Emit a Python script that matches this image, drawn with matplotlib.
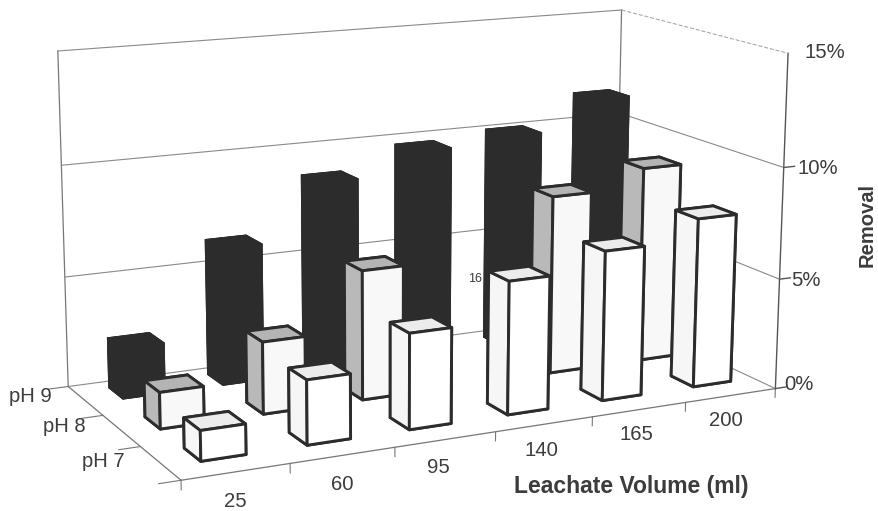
#!/usr/bin/env python3
"""3-D column chart: removal against leachate volume, one row of columns per pH."""
import matplotlib
matplotlib.use("Agg")
import matplotlib.pyplot as plt
import numpy as np

plt.rcParams["font.family"] = ["Liberation Sans", "DejaVu Sans"]

W_PX, H_PX = 879, 511
INK, LINE, DARK = "#3c3c3c", "#777777", "#2c2c2c"

volumes = ["25", "60", "95", "140", "165", "200"]
ph_rows = ["pH 7", "pH 8", "pH 9"]
ph7 = [1.3, 2.8, 4.2, 5.9, 6.7, 7.65]
ph8 = [1.6, 3.2, 5.8, np.nan, 8.15, 9.0]
ph9 = [2.3, 6.25, 8.75, 9.75, 10.05, 11.4]
removal_ticks = ["0%", "5%", "10%", "15%"]

# faces in bar3d order: bottom, top, front, back, left, right
face_colors = [
    ["#ffffff", "#ececec", "#ffffff", "#ffffff", "#f6f6f6", "#ffffff"],
    ["#ffffff", "#b4b4b4", "#f8f8f8", "#f8f8f8", "#b9b9b9", "#f8f8f8"],
    [DARK] * 6,
]
BAR_X, BAR_Y = 0.42, 0.40
PAD_X, PAD_Y = 0.33, 0.39

fig = plt.figure(figsize=(W_PX / 100, H_PX / 100), dpi=100)
# camera fitted to the box corners of the original
left, top, side = 25.2, -153.8, 773.6
ax = fig.add_axes([left / W_PX, 1 - (top + side) / H_PX, side / W_PX, side / H_PX],
                  projection="3d", computed_zorder=False)
ax.set_xlim(0, 6, view_margin=0)
ax.set_ylim(0, 3, view_margin=0)
ax.set_zlim(0, 15, view_margin=0)
ax.view_init(elev=13.3567, azim=-116.4292, roll=-0.1985)
ax.set_proj_type("persp", focal_length=0.5935)
ax.set_box_aspect((1, 0.4948, 0.5351))
ax.set_axis_off()
ax.patch.set_alpha(0)


def seg(x, y, z, color=LINE, lw=0.8, **kw):
    ax.plot(x, y, z, color=color, lw=lw, zorder=0, **kw)


# floor and walls
seg([0, 6], [0, 0], [0, 0], lw=0.9)
seg([0, 0], [0, 3], [0, 0], lw=0.9)
seg([6, 6], [0, 0], [0, 15], color="#555555", lw=1.0)
seg([0, 0], [3, 3], [0, 15], lw=0.9)
seg([6, 6], [3, 3], [0, 15], lw=0.9)
for z in (0, 5, 10, 15):
    seg([0, 6], [3, 3], [z, z], color="#8a8a8a")
    seg([6, 6], [3, 0], [z, z], color="#8a8a8a" if z < 15 else "#aaaaaa", ls="-" if z < 15 else "--")
# ticks
for i in range(7):
    seg([i, i], [0, 0], [0, -0.4])
for j in range(4):
    seg([-0.2, 0], [j, j], [0, 0])
for z in (0, 5, 10):
    seg([6, 6.12], [0, 0], [z, z], color="#555555", lw=1.0)

# back row first, and right to left inside a row, so nearer columns cover farther ones
order = 1
for j, values in reversed(list(enumerate([ph7, ph8, ph9]))):
    for i in reversed(range(len(volumes))):
        if np.isnan(values[i]):
            continue
        lw = 0.6 if j == 2 else 2.1
        ax.bar3d(i + PAD_X, j + PAD_Y, 0, BAR_X, BAR_Y, values[i], color=face_colors[j],
                 edgecolor=DARK, linewidth=lw, shade=False, zorder=order)
        order += 1


def label(x, y, s, size=14.6, ha="center", **kw):
    fig.text(x / W_PX, 1 - y / H_PX, s, fontsize=size, ha=ha, va="center", color=INK, **kw)


for x, y, s in zip([784, 791, 798, 805], [384, 280, 169, 53], removal_ticks):
    label(x, y, s, ha="left")
for x, y, s in zip([235, 342, 438, 541, 636, 726], [501, 484, 467, 450, 434, 420], volumes):
    label(x, y, s)
for x, y, s in zip([103, 64, 30], [461, 426, 396], ph_rows):
    label(x, y, s)
label(631, 486, "Leachate Volume (ml)", size=16.5, fontweight="bold")
label(867, 225, "Removal", size=14.5, fontweight="bold", rotation=90)
label(475, 279, "16", size=9)

fig.savefig("out.png", dpi=100)
